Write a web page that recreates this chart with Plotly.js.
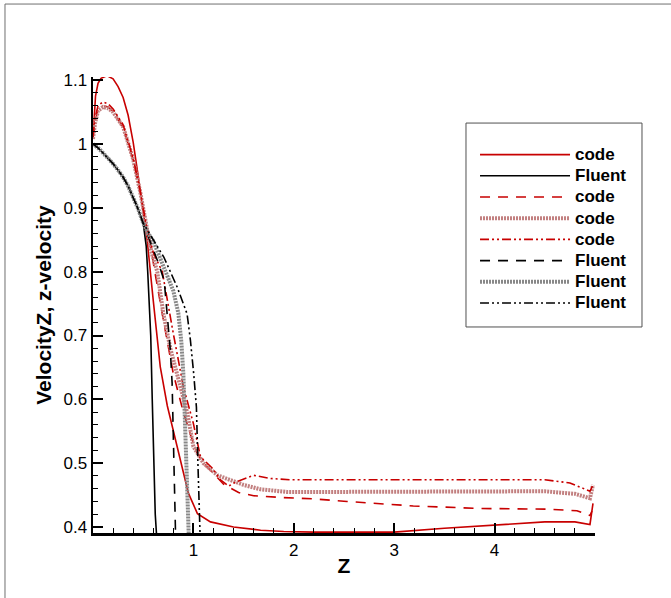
<!DOCTYPE html>
<html>
<head>
<meta charset="utf-8">
<script src="https://cdn.plot.ly/plotly-3.0.1.min.js"></script>
<style>html,body{margin:0;padding:0;background:#fff;}#chart{width:671px;height:598px;}</style>
</head>
<body>
<div id="chart"></div>
<script>
// Shared start of the Fluent curves (before crossing point)
const fluentStartX = [0, 0.05, 0.1, 0.15, 0.2, 0.25, 0.3, 0.35, 0.4, 0.45, 0.5];
const fluentStartY = [1.0, 0.994, 0.986, 0.978, 0.969, 0.959, 0.948, 0.934, 0.917, 0.898, 0.876];

// code, solid
const codeSolidX = [0, 0.01, 0.025, 0.05, 0.08, 0.14, 0.2, 0.25, 0.3, 0.35, 0.4, 0.45, 0.5, 0.54, 0.6, 0.67, 0.74, 0.8, 0.89, 0.95, 1.04, 1.17, 1.4, 1.67, 1.9, 2.2, 2.6, 3.0, 3.5, 4.0, 4.5, 4.8, 4.95, 4.98];
const codeSolidY = [1.008, 1.04, 1.075, 1.095, 1.103, 1.107, 1.102, 1.09, 1.073, 1.045, 1.003, 0.95, 0.895, 0.849, 0.755, 0.651, 0.59, 0.55, 0.494, 0.453, 0.421, 0.408, 0.4, 0.395, 0.393, 0.392, 0.392, 0.392, 0.398, 0.403, 0.408, 0.408, 0.404, 0.437];

// Fluent, solid
const fluentSolidX = fluentStartX.concat([0.53, 0.545, 0.56, 0.575, 0.59, 0.605, 0.62, 0.632]);
const fluentSolidY = fluentStartY.concat([0.84, 0.8, 0.75, 0.7, 0.6, 0.5, 0.42, 0.39]);

// code start (dashed / dotted / dash-dot-dot share this)
const codeStartX = [0, 0.02, 0.05, 0.1, 0.15, 0.2, 0.3, 0.4, 0.47, 0.53];

// code, dashed
const codeDashX = codeStartX.concat([0.58, 0.61, 0.7, 0.8, 0.9, 0.97, 1.04, 1.1, 1.2, 1.3, 1.45, 1.6, 1.9, 2.2, 2.53, 3.19, 3.86, 4.52, 4.82, 4.95, 4.97]);
const codeDashY = [1.01, 1.035, 1.054, 1.06, 1.058, 1.051, 1.026, 0.975, 0.924, 0.871,
  0.835, 0.805, 0.725, 0.64, 0.58, 0.545, 0.515, 0.5, 0.484, 0.467, 0.454, 0.449, 0.446, 0.444, 0.44, 0.433, 0.429, 0.428, 0.4255, 0.418, 0.425];

// code, dotted
const codeDotX = codeStartX.concat([0.58, 0.64, 0.7, 0.77, 0.87, 0.94, 1.0, 1.1, 1.24, 1.37, 1.5, 1.67, 1.93, 2.5, 3.0, 3.5, 4.0, 4.5, 4.8, 4.95, 4.98]);
const codeDotY = [1.008, 1.032, 1.052, 1.058, 1.056, 1.05, 1.027, 0.976, 0.925, 0.872,
  0.832, 0.8, 0.735, 0.68, 0.62, 0.578, 0.526, 0.5, 0.481, 0.474, 0.466, 0.459, 0.455, 0.455, 0.455, 0.455, 0.456, 0.456, 0.452, 0.445, 0.466];

// code, dash-dot-dot
const codeDashDotX = codeStartX.concat([0.6, 0.69, 0.8, 0.9, 1.0, 1.07, 1.19, 1.27, 1.35, 1.43, 1.6, 1.77, 1.96, 2.5, 3.0, 3.5, 4.0, 4.5, 4.75, 4.95, 4.98]);
const codeDashDotY = [1.012, 1.04, 1.06, 1.066, 1.063, 1.055, 1.03, 0.978, 0.927, 0.873,
  0.83, 0.8, 0.703, 0.62, 0.562, 0.51, 0.492, 0.474, 0.464, 0.471, 0.481, 0.476, 0.474, 0.474, 0.474, 0.475, 0.475, 0.474, 0.469, 0.456, 0.466];

// Fluent, dashed
const fluentDashX = fluentStartX.concat([0.55, 0.6, 0.655, 0.71, 0.74, 0.77, 0.788, 0.796, 0.805, 0.815, 0.822]);
const fluentDashY = fluentStartY.concat([0.855, 0.835, 0.812, 0.785, 0.73, 0.677, 0.625, 0.578, 0.5, 0.44, 0.39]);

// Fluent, dotted
const fluentDotX = fluentStartX.concat([0.55, 0.6, 0.7, 0.8, 0.85, 0.88, 0.9, 0.915, 0.925, 0.937, 0.945, 0.953]);
const fluentDotY = fluentStartY.concat([0.86, 0.848, 0.81, 0.77, 0.735, 0.69, 0.64, 0.58, 0.52, 0.474, 0.43, 0.39]);

// Fluent, dash-dot-dot
const fluentDashDotX = fluentStartX.concat([0.55, 0.6, 0.705, 0.838, 0.937, 0.97, 1.003, 1.03, 1.043, 1.055, 1.063, 1.066]);
const fluentDashDotY = fluentStartY.concat([0.862, 0.85, 0.823, 0.776, 0.734, 0.693, 0.64, 0.588, 0.51, 0.45, 0.406, 0.39]);

const xTicks = [1, 2, 3, 4];
const yTicks = [0.4, 0.5, 0.6, 0.7, 0.8, 0.9, 1.0, 1.1];

const RED = '#c80000';
const PINK = '#c28080';
const GREY = '#888888';
const BLACK = '#000000';
const DASH = '10px,8px';
const DOTS = '2px,1px';
const DDD = '9px,3px,2px,3px,2px,3px';

function tr(name, x, y, color, width, dash) {
  return {x: x, y: y, name: '<span style="font-size:17px">' + name + '</span>', type: 'scatter', mode: 'lines',
    line: {color: color, width: width, dash: dash}};
}

const data = [
  tr('code', codeSolidX, codeSolidY, RED, 1.6, 'solid'),
  tr('Fluent', fluentSolidX, fluentSolidY, BLACK, 1.6, 'solid'),
  tr('code', codeDashX, codeDashY, RED, 1.6, DASH),
  tr('code', codeDotX, codeDotY, PINK, 4, DOTS),
  tr('code', codeDashDotX, codeDashDotY, RED, 1.6, DDD),
  tr('Fluent', fluentDashX, fluentDashY, BLACK, 1.6, DASH),
  tr('Fluent', fluentDotX, fluentDotY, GREY, 4, DOTS),
  tr('Fluent', fluentDashDotX, fluentDashDotY, BLACK, 1.6, DDD)
];

const FONT = 'Liberation Sans, Arial, Helvetica, sans-serif';

const layout = {
  width: 671, height: 598,
  margin: {l: 93, r: 76, t: 77, b: 65},
  paper_bgcolor: '#fff', plot_bgcolor: '#fff',
  font: {family: FONT, color: '#000', size: 17},
  showlegend: true,
  legend: {
    x: 0.761, y: 0.864, xanchor: 'left', yanchor: 'top',
    bgcolor: 'rgba(0,0,0,0)', borderwidth: 0,
    font: {family: FONT, size: 14, color: '#000', weight: 'bold'},
    itemwidth: 90, traceorder: 'normal'
  },
  xaxis: {
    range: [0, 5.0], showgrid: false, zeroline: false,
    showline: true, linecolor: '#000', linewidth: 2.5,
    ticks: 'inside', ticklen: 10, tickwidth: 2, tickcolor: '#000',
    tickvals: xTicks, ticktext: xTicks.map(String),
    tickfont: {size: 17},
    minor: {dtick: 0.2, tick0: 0, ticks: 'inside', ticklen: 5, tickwidth: 1, tickcolor: '#000'},
    title: {text: 'Z', font: {size: 21, weight: 'bold'}, standoff: 0}
  },
  yaxis: {
    range: [0.3906, 1.105], showgrid: false, zeroline: false,
    showline: true, linecolor: '#000', linewidth: 2.5,
    ticks: 'inside', ticklen: 10, tickwidth: 2, tickcolor: '#000',
    tickvals: yTicks, ticktext: yTicks.map(v => String(Math.round(v * 10) / 10)),
    tickfont: {size: 17},
    minor: {dtick: 0.02, tick0: 0.4, ticks: 'inside', ticklen: 5, tickwidth: 1, tickcolor: '#000'},
    title: {text: 'VelocityZ, z-velocity', font: {size: 21, weight: 'bold'}, standoff: 6}
  },
  shapes: [
    {type: 'rect', xref: 'paper', yref: 'paper', x0: 0.743, x1: 1.0936, y0: 0.4518, y1: 0.899,
      line: {color: '#505050', width: 1}, fillcolor: 'rgba(0,0,0,0)'},
    {type: 'line', xref: 'paper', yref: 'paper', x0: -0.1753, x1: 1.16, y0: 1.160, y1: 1.160,
      line: {color: '#707070', width: 1}},
    {type: 'line', xref: 'paper', yref: 'paper', x0: -0.1753, x1: -0.1753, y0: -0.15, y1: 1.160,
      line: {color: '#707070', width: 1}}
  ]
};

Plotly.newPlot('chart', data, layout, {displayModeBar: false, staticPlot: true});
</script>
</body>
</html>
